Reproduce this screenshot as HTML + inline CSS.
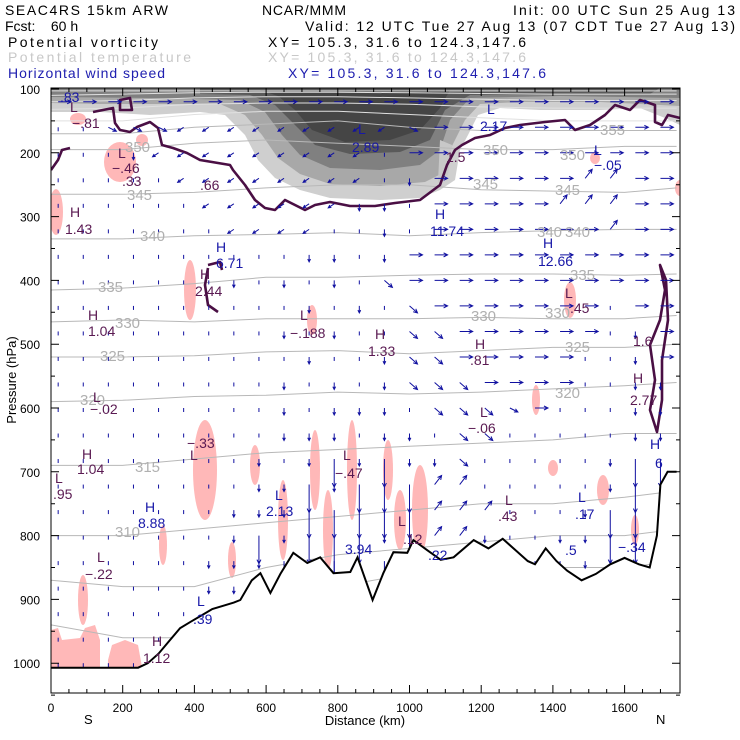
<!DOCTYPE html>
<html><head><meta charset="utf-8"><style>
body{margin:0;background:#fff}
svg{display:block;font-family:"Liberation Sans",sans-serif}
</style></head><body>
<svg id="c" width="740" height="740" viewBox="0 0 740 740">
<g font-size="14">
<text x="5" y="15" textLength="163">SEAC4RS 15km ARW</text>
<text x="262" y="15" textLength="84">NCAR/MMM</text>
<text x="513" y="15" textLength="222">Init: 00 UTC Sun 25 Aug 13</text>
<text x="5" y="31" xml:space="preserve">Fcst:    60 h</text>
<text x="305" y="31" textLength="430">Valid: 12 UTC Tue 27 Aug 13 (07 CDT Tue 27 Aug 13)</text>
<text x="8" y="47" textLength="150">Potential vorticity</text>
<text x="268" y="47" textLength="258">XY= 105.3, 31.6 to 124.3,147.6</text>
<text x="8" y="62" fill="#c8c8c8" textLength="183">Potential temperature</text>
<text x="268" y="62" fill="#c8c8c8" textLength="258">XY= 105.3, 31.6 to 124.3,147.6</text>
<text x="8" y="78" fill="#2020b0" textLength="157">Horizontal wind speed</text>
<text x="288" y="78" fill="#2020b0" textLength="258">XY= 105.3, 31.6 to 124.3,147.6</text>
</g>
<defs><clipPath id="pc"><rect x="51" y="88" width="629" height="605"/></clipPath></defs>
<g id="plot" clip-path="url(#pc)"></g>
<g id="axes"></g>
<text x="365" y="725" text-anchor="middle" font-size="13">Distance (km)</text>
<text x="84" y="724" font-size="13">S</text>
<text x="656" y="724" font-size="13">N</text>
<text transform="translate(16,380) rotate(-90)" text-anchor="middle" font-size="13">Pressure (hPa)</text>
</svg>
<script>
const NS="http://www.w3.org/2000/svg";
// ---- data ----
const distNodes=[0,200,400,600,800,1000,1200,1400,1600,1745];
const thetaLevels=[400,390,380,370,360,355,350,345,340,335,330,325,320,315,310,305,300];
const thetaP=[
[103,103,103,103,103,103,103,103,103,103],
[110,108,106,105,105,106,107,108,108,108],
[120,118,114,112,112,114,116,118,118,118],
[132,130,124,122,122,124,128,130,130,130],
[150,150,140,135,135,140,145,150,150,150],
[170,170,160,155,150,160,165,165,165,165],
[195,195,185,180,185,190,195,195,190,190],
[265,265,262,255,250,250,258,260,262,255],
[335,335,330,328,325,330,325,322,320,320],
[415,412,405,395,395,392,390,390,392,390],
[465,462,465,460,460,460,458,460,460,455],
[520,520,518,512,510,515,510,505,505,500],
[590,588,582,580,575,578,575,570,565,560],
[690,690,680,670,665,660,655,650,640,640],
[800,800,790,780,770,760,750,750,740,730],
[870,880,880,850,830,820,810,800,800,790],
[940,960,960,900,880,860,850,850,850,840]];
const terrainD=[0,243,270,300,330,360,390,420,450,480,510,528,560,584,612,640,676,715,751,788,835,855,897,927,955,994,1011,1050,1087,1123,1179,1220,1260,1300,1330,1350,1380,1410,1440,1480,1520,1560,1600,1640,1670,1690,1700,1720,1745];
const terrainP=[1007,1007,1000,985,965,945,935,925,915,910,905,901,870,859,890,860,827,843,834,859,857,834,901,859,826,827,807,823,838,834,807,820,805,825,840,845,820,840,855,870,860,845,835,845,850,800,720,700,700];
const windCols=[];for(let i=0;i<25;i++)windCols.push(20+70*i);
const windRows=[];for(let j=0;j<23;j++)windRows.push(120+40*j);
const windCodes=[
"RRRRRRRRRRRRRRRRRRRRRRRRR",
"..rrrlllllllllrRRRRRRRRRR",
"...dlllllllll.RRRRRRRRRRR",
".....llllllll.dRRRRRRnnRR",
"......lllllldd.RRRRRnnnRR",
".......llll..d.RRRRRRRnRR",
"..........dd.dRRRRRRRRRRR",
".......d.d.d.eRRRRRRRRRRR",
"..........d.d.eRRRRRRR.RR",
".........d.d..eeRRRRRR.dR",
"..........d..deeRRRRR..dR",
".........d.d.deeeRRRR..dd",
".........d.ddd.eeerR...dd",
".........ddd.dd.ee.....dd",
"........d.dDdDdde.....dDD",
"........ddDdDDDnn.....dDD",
".......dddDDDDDnnn...dDDD",
".......dDdDVDdDnnd..ddDDD",
"......dddDdVDVDnD..dDdDDD",
"......dddDdDD VDd..DdDDDD",
"......dd.d..  V         D",
"......d.d.    V          ",
"......d.                 "];
const pvLabels=[["L",70,112],["−.81",72,128],["L",118,158],["−.46",112,173],[".33",122,186],["H",70,217],["1.43",65,234],["H",200,279],["2.44",195,296],["H",88,320],["1.04",88,336],[".66",200,190],["L",93,402],["−.02",90,414],["H",82,459],["1.04",77,474],["L",55,483],[".95",53,499],["L",190,460],["−.33",187,448],["L",97,562],["−.22",85,579],["H",152,646],["1.12",143,663],["L",343,460],["−.47",335,478],["L",300,320],["−.188",290,338],["H",375,339],["1.33",368,356],["H",475,349],[".81",470,365],["L",480,417],["−.06",468,433],["L",565,298],[".45",570,313],["H",633,383],["2.77",630,405],["L",398,526],[".12",403,544],["L",505,505],[".43",498,521],["1.6",633,346],["1.5",446,162]];
const windLabels=[[".83",60,102],["L",358,134],["2.89",352,152],["L",487,114],["2.17",480,131],["H",435,219],["11.74",430,236],["H",543,248],["12.66",538,266],["H",216,252],["6.71",216,268],["L",594,155],["−.05",594,170],["L",275,500],["2.13",266,516],["H",145,512],["8.88",138,528],["L",197,606],[".39",193,624],["L",578,502],[".17",575,519],["H",650,449],["6",655,468],["3.94",345,554],[".5",565,555],[".22",428,560],["−.34",618,552]];
const thetaLabels=[["350",125,152],["345",127,200],["340",140,241],["335",98,292],["330",115,328],["325",100,361],["320",80,405],["315",135,472],["310",115,537],["350",483,155],["350",560,160],["345",473,189],["345",555,195],["340",537,237],["340",565,237],["335",570,280],["330",471,321],["330",545,318],["325",565,352],["320",555,398],["355",600,135]];
// ---- scales ----
const X=d=>51+d*0.3585, Y=p=>89+(p-100)*0.638;
const plot=document.getElementById('plot'),axes=document.getElementById('axes');
function mk(t,a,par){const e=document.createElementNS(NS,t);for(const k in a)e.setAttribute(k,a[k]);(par||plot).appendChild(e);return e;}
function terrAt(d){for(let i=1;i<terrainD.length;i++)if(d<=terrainD[i]){const f=(d-terrainD[i-1])/(terrainD[i]-terrainD[i-1]);return terrainP[i-1]+f*(terrainP[i]-terrainP[i-1]);}return terrainP[terrainP.length-1];}
// shading
const shades=[
["#cfcfcf","M51,88 L680,88 L680,125 L665,118 L640,108 L600,110 L540,110 L500,108 L478,115 L468,135 L460,150 L455,180 L440,190 L420,198 L380,200 L330,198 L300,190 L275,178 L258,160 L245,135 L225,115 L200,112 L150,115 L100,112 L51,112Z"],
["#a8a8a8","M51,88 L680,88 L680,106 L600,102 L520,102 L480,104 L465,120 L450,150 L445,172 L425,182 L380,186 L330,184 L300,174 L278,158 L262,135 L245,115 L220,104 L150,104 L100,104 L51,103Z"],
["#808080","M51,88 L680,88 L680,98 L560,96 L470,98 L450,120 L440,150 L420,165 L380,170 L330,168 L300,155 L282,135 L265,112 L240,100 L150,98 L51,97Z"],
["#5a5a5a","M200,88 L660,88 L650,94 L470,95 L445,110 L430,140 L400,152 L350,154 L315,145 L295,125 L275,105 L250,95 L200,94Z"],
["#454545","M260,90 L450,90 L440,108 L420,130 L390,140 L345,142 L312,130 L295,110 L278,96Z"],
["#c8c8c8","M440,140 L452,145 L448,175 L438,182Z"]];
shades.forEach((s,i)=>{const e=mk('path',{d:s[1],fill:s[0]});});
// pink patches
const pinks=[[120,162,16,20],[142,140,6,6],[78,119,8,6],[56,212,7,23],[190,290,6,30],[312,320,5,15],[205,470,12,50],[255,465,5,20],[163,545,4,20],[232,560,4,18],[283,520,5,40],[315,470,5,40],[328,530,5,40],[352,470,5,50],[388,470,5,30],[420,510,8,45],[400,520,6,30],[536,400,4,15],[553,468,5,8],[570,300,6,18],[603,490,6,15],[635,530,4,15],[83,600,5,25],[680,188,5,8],[595,158,5,6]];
pinks.forEach(p=>{const e=mk('ellipse',{cx:p[0],cy:p[1],rx:p[2],ry:p[3],fill:'#ffb8b8'});});
const pinkPaths=["M51,630 L58,628 L62,640 L80,638 L85,628 L95,625 L100,640 L100,667 L51,667Z","M108,660 L112,645 L125,640 L138,645 L142,667 L108,667Z"];
pinkPaths.forEach(d=>{const e=mk('path',{d:d,fill:'#ffb8b8'});});
// theta lines
thetaLevels.forEach((lv,i)=>{const pts=distNodes.map((d,j)=>X(d).toFixed(1)+','+Y(thetaP[i][j]).toFixed(1)).join(' ');const e=mk('polyline',{points:pts,fill:'none',stroke:i<5?'#e0e0e0':'#b8b8b8','stroke-width':1});});
// PV contours
const pvPaths=["M93,112 L113,108 L115,123 L120,130 L130,132 L137,127 L150,122 L158,128 L162,145 L173,148 L187,153 L200,160 L230,165 L233,170 L245,185 L255,200 L265,208 L275,210 L285,200 L295,205 L305,210 L315,205 L330,202 L350,206 L375,206 L395,203 L420,200 L440,185 L447,165 L455,150 L462,145 L475,138 L490,135 L505,128 L520,125 L545,122 L565,120 L575,130 L590,125 L605,115 L615,105 L630,110 L640,100 L655,105 L655,122 L662,125 L668,115 L680,118",
"M51,170 L58,160 L62,150 L70,148","M208,265 L220,262 L222,270 M208,268 L205,285 L208,305 L218,312","M660,265 L665,290 L660,320 L650,345 L655,380 L650,410 L657,432 L662,400 L662,360 L668,320 L666,280Z","M120,100 L130,98 L132,110 L120,110Z"];
pvPaths.forEach(d=>{const e=mk('path',{d:d,fill:'none',stroke:'#4a0f44','stroke-width':2.6,'stroke-linejoin':'round'});});
// wind arrows
const vec={'.':[0,4],d:[0,7],D:[0,28],V:[0,55],r:[8,4],R:[13,0],l:[-6,4],e:[8,7],n:[7,-9]};
windRows.forEach((p,ri)=>{windCols.forEach((d,ci)=>{const c=windCodes[ri][ci];if(!vec[c]||p>terrAt(d)-4)return;const x=X(d),y=Y(p),v=vec[c],x2=x+v[0],y2=y+v[1];const L=Math.hypot(v[0],v[1]),ux=v[0]/L,uy=v[1]/L,h=L<6?0:Math.min(4,L*0.4);
const g=mk('path',{d:`M${x},${y} L${x2},${y2}`+(h?` M${x2-ux*h-uy*h*0.5},${y2-uy*h+ux*h*0.5} L${x2},${y2} L${x2-ux*h+uy*h*0.5},${y2-uy*h-ux*h*0.5}`:''),stroke:'#1010a0','stroke-width':1,fill:'none'});

});});
// terrain
let tp='M'+X(0)+','+Y(terrainP[0]);terrainD.forEach((d,i)=>tp+=' L'+X(d).toFixed(1)+','+Y(terrainP[i]).toFixed(1));
const tf=mk('path',{d:tp+' L680,700 L51,700Z',fill:'#fff'});
const tl=mk('path',{d:tp,fill:'none',stroke:'#000','stroke-width':2});
// labels
function lab(arr,col,sz,name){arr.forEach(a=>{const t=mk('text',{x:a[1],y:a[2],fill:col,'font-size':sz});t.textContent=a[0];});}
lab(thetaLabels,'#b0b0b0',15,'theta-label');lab(pvLabels,'#5a1a52',14,'pv-extremum-label');lab(windLabels,'#1818a8',14,'wind-extremum-label');
// axes
const fr=mk('rect',{x:51,y:88,width:629,height:605,fill:'none',stroke:'#000','stroke-width':1},axes);
const pTicks=[100,200,300,400,500,600,700,800,900,1000];
for(let p=100;p<=1050;p+=50){const y=Y(p),L=p%100?4:8;mk('path',{d:`M51,${y}h${L}M680,${y}h${-L}`,stroke:'#000'},axes);}
pTicks.forEach(p=>{const t=mk('text',{x:40,y:Y(p)+5,'text-anchor':'end','font-size':12},axes);t.textContent=p;});
const dTicks=[0,200,400,600,800,1000,1200,1400,1600];
for(let d=0;d<=1700;d+=50){const x=X(d),L=d%200?4:8;mk('path',{d:`M${x},693v${-L}M${x},88v${L}`,stroke:'#000'},axes);}
dTicks.forEach(d=>{const t=mk('text',{x:X(d),y:712,'text-anchor':'middle','font-size':12},axes);t.textContent=d;});
</script>
</body></html>
